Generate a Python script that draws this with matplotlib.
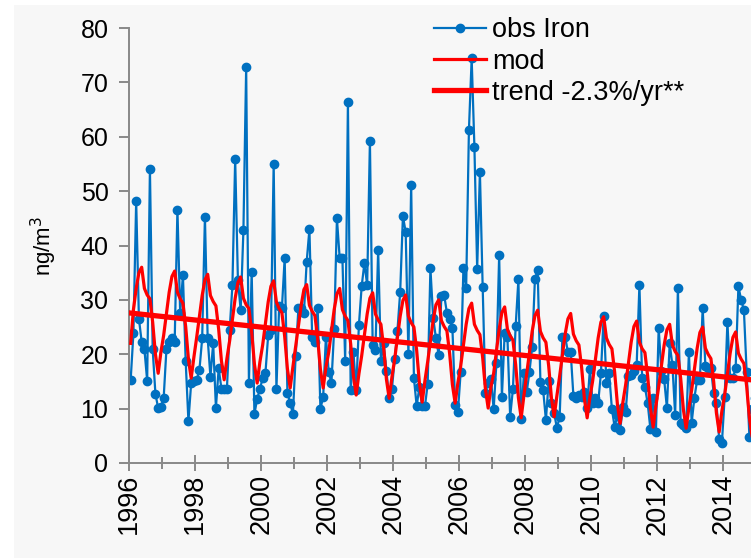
import numpy as np
import matplotlib
matplotlib.use("Agg")
import matplotlib.pyplot as plt
from matplotlib.patches import Rectangle
from matplotlib.ticker import MultipleLocator

plt.rcParams['font.family'] = ['Liberation Sans', 'DejaVu Sans']

# Años de la serie mensual (ene-1996 a dic-2014)
anios = list(range(1996, 2015))

# Hierro observado, ng/m3, un valor por mes
obs_hierro = [
    15.3, 23.9, 48.2, 26.5, 22.3, 20.9, 15.1, 54.1, 20.9, 12.7, 10.1, 10.3,  # 1996
    12.0, 20.9, 22.3, 22.9, 22.3, 46.6, 27.6, 34.6, 18.7, 7.7, 14.7, 15.0,   # 1997
    15.3, 17.1, 22.9, 45.3, 22.9, 15.9, 22.0, 10.2, 17.4, 13.7, 13.7, 13.7,  # 1998
    24.5, 32.7, 55.9, 33.6, 28.1, 42.8, 72.8, 14.8, 35.2, 9.0, 11.8, 13.6,   # 1999
    15.6, 16.5, 23.5, 24.5, 55.0, 13.6, 28.9, 28.5, 37.7, 12.9, 11.0, 9.0,   # 2000
    19.7, 28.5, 28.5, 27.5, 37.0, 43.0, 23.2, 22.3, 28.5, 9.9, 12.2, 23.2,   # 2001
    16.8, 14.7, 24.6, 45.0, 37.7, 37.7, 18.8, 66.4, 13.4, 20.4, 13.4, 25.4,  # 2002
    32.5, 36.8, 32.7, 59.2, 21.7, 20.8, 39.2, 18.8, 22.0, 16.9, 11.9, 13.6,  # 2003
    19.1, 24.3, 31.4, 45.4, 42.5, 20.0, 51.1, 15.6, 10.5, 14.0, 10.5, 10.4,  # 2004
    14.5, 35.8, 26.7, 23.0, 19.9, 30.7, 30.9, 27.6, 26.5, 24.8, 10.7, 9.4,   # 2005
    16.7, 35.8, 32.2, 61.2, 74.4, 58.1, 35.7, 53.5, 32.4, 12.9, 14.7, 15.5,  # 2006
    9.9, 18.4, 38.2, 12.2, 23.9, 23.2, 8.5, 13.6, 25.2, 33.8, 8.1, 16.5,     # 2007
    13.0, 16.7, 21.3, 33.8, 35.5, 14.9, 13.4, 7.9, 15.0, 11.0, 9.2, 6.4,     # 2008
    8.5, 23.2, 23.2, 20.4, 20.5, 12.3, 12.0, 12.5, 12.2, 13.0, 10.1, 17.3,   # 2009
    11.0, 12.0, 11.0, 16.5, 27.0, 14.7, 16.5, 9.9, 6.6, 8.8, 6.1, 10.3,      # 2010
    9.4, 16.0, 16.2, 17.0, 18.0, 32.7, 15.6, 14.0, 11.0, 6.2, 12.0, 5.7,     # 2011
    24.8, 17.0, 15.4, 10.1, 22.0, 18.0, 8.8, 32.2, 7.4, 7.0, 6.4, 20.4,      # 2012
    7.4, 12.0, 15.3, 15.3, 28.5, 17.8, 17.5, 17.5, 12.9, 11.0, 4.4, 3.7,     # 2013
    12.1, 25.9, 15.6, 15.6, 17.5, 32.5, 30.0, 28.1, 16.7, 4.8, 10.0, 12.0,   # 2014
]

# Hierro modelado, ng/m3
mod_hierro = [
    22.0, 28.2, 32.1, 35.0, 36.0, 32.1, 30.9, 30.2, 25.9, 20.0, 16.5, 20.4,  # 1996
    23.5, 27.4, 31.4, 34.3, 35.3, 31.4, 30.2, 29.4, 25.1, 19.1, 15.6, 19.5,  # 1997
    23.1, 26.9, 30.8, 33.7, 34.7, 30.8, 29.7, 28.9, 24.6, 18.8, 15.3, 19.2,  # 1998
    22.5, 26.4, 30.3, 33.2, 34.2, 30.3, 29.1, 28.4, 24.1, 18.2, 14.7, 18.6,  # 1999
    21.7, 25.6, 29.6, 32.5, 33.5, 29.6, 28.4, 27.6, 23.3, 17.3, 13.8, 17.7,  # 2000
    21.4, 25.2, 29.0, 31.9, 32.8, 29.0, 27.9, 27.1, 22.9, 17.2, 13.8, 17.6,  # 2001
    20.3, 24.3, 28.2, 31.1, 32.1, 28.2, 27.0, 26.2, 21.9, 16.0, 12.5, 16.4,  # 2002
    19.7, 23.5, 27.4, 30.3, 31.3, 27.4, 26.3, 25.5, 21.2, 15.4, 11.9, 15.8,  # 2003
    19.1, 23.0, 27.0, 29.9, 30.9, 27.0, 25.8, 25.0, 20.7, 14.7, 11.2, 15.1,  # 2004
    18.6, 22.4, 26.2, 29.1, 30.0, 26.2, 25.1, 24.3, 20.1, 14.4, 11.0, 14.8,  # 2005
    17.8, 21.7, 25.5, 28.4, 29.4, 25.5, 24.4, 23.6, 19.4, 13.6, 10.1, 14.0,  # 2006
    16.5, 20.5, 24.6, 27.7, 28.7, 24.6, 23.4, 22.6, 18.1, 12.0, 8.3, 12.4,   # 2007
    16.3, 20.3, 24.2, 27.1, 28.1, 24.2, 23.0, 22.2, 17.9, 12.0, 8.5, 12.4,   # 2008
    16.0, 19.8, 23.7, 26.5, 27.5, 23.7, 22.5, 21.7, 17.5, 11.8, 8.3, 12.1,   # 2009
    15.1, 19.1, 23.0, 25.9, 26.9, 23.0, 21.8, 21.0, 16.7, 10.8, 7.3, 11.2,   # 2010
    14.4, 18.3, 22.2, 25.1, 26.1, 22.2, 21.0, 20.3, 16.0, 10.1, 6.6, 10.5,   # 2011
    14.0, 17.9, 21.7, 24.5, 25.5, 21.7, 20.5, 19.8, 15.6, 9.8, 6.4, 10.2,    # 2012
    13.4, 17.3, 21.1, 24.0, 25.0, 21.1, 20.0, 19.2, 15.0, 9.2, 5.7, 9.6,     # 2013
    12.5, 16.4, 20.2, 23.1, 24.1, 20.2, 19.1, 18.3, 14.1, 8.3, 4.8, 8.7,     # 2014
]

# Tendencia lineal (-2.3 %/año)
tendencia_x = [1996.0, 2015.0]
tendencia_y = [27.6, 15.2]

# Fecha decimal a mitad de cada mes
fechas = np.array([a + (m + 0.5) / 12 for a in anios for m in range(12)])

azul = "#0070C0"
rojo = "#FF0000"

fig = plt.figure(figsize=(7.51, 5.58), dpi=100)
fig.patch.set_facecolor("white")
fig.patches.append(Rectangle((14 / 751, 0), 1, 1 - 5 / 558, transform=fig.transFigure,
                             facecolor="#F7F7F7", edgecolor="none", zorder=-10))

ax = fig.add_axes([129.3 / 751, 95 / 558, (751 - 129.3) / 751, 435 / 558])
ax.patch.set_alpha(0)

ax.plot(fechas, obs_hierro, color=azul, lw=1.6, marker="o", ms=6,
        label="obs Iron", zorder=2)
ax.plot(fechas, mod_hierro, color=rojo, lw=2.3, label="mod", zorder=3)
ax.plot(tendencia_x, tendencia_y, color=rojo, lw=3.8,
        label="trend -2.3%/yr**", zorder=4)

ax.set_xlim(1996, 2014.84)
ax.set_ylim(0, 80)

ax.xaxis.set_major_locator(MultipleLocator(2))
ax.xaxis.set_minor_locator(MultipleLocator(1))
ax.yaxis.set_major_locator(MultipleLocator(10))
ax.set_xticklabels([], minor=True)
ax.xaxis.set_major_formatter(plt.FuncFormatter(lambda v, p: f"{int(v)}"))

gris = "#898989"
for lado in ["top", "right"]:
    ax.spines[lado].set_visible(False)
for lado in ["left", "bottom"]:
    ax.spines[lado].set_color(gris)
    ax.spines[lado].set_linewidth(1.4)

ax.tick_params(axis="x", which="major", direction="inout", length=12, width=1.4,
               color=gris, labelsize=19.5, labelrotation=90, pad=2)
ax.tick_params(axis="x", which="minor", direction="inout", length=8, width=1.4,
               color=gris)
ax.tick_params(axis="y", which="major", direction="out", length=7, width=1.4,
               color=gris, labelsize=18, pad=8)

ax.set_ylabel("ng/m$^3$", fontsize=16)
ax.yaxis.set_label_coords(-0.113, 0.5)

leg = ax.legend(loc="upper left", bbox_to_anchor=(0.472, 1.05), frameon=False,
                fontsize=19.5, handlelength=1.95, handletextpad=0.22,
                labelspacing=0.2, borderaxespad=0)

fig.savefig("out.png", dpi=100)
